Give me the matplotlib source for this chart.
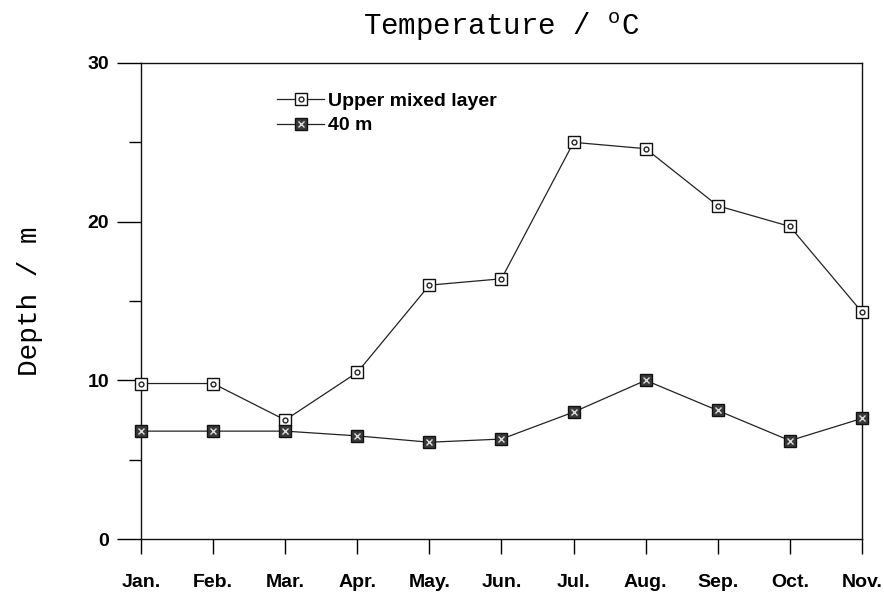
import matplotlib
matplotlib.use('Agg')
import matplotlib.pyplot as plt
from matplotlib.lines import Line2D
from matplotlib.legend_handler import HandlerTuple
from matplotlib.ticker import MultipleLocator

plt.rcParams['font.family'] = 'Liberation Sans'
plt.rcParams['mathtext.fontset'] = 'custom'
plt.rcParams['mathtext.rm'] = 'Liberation Mono'

months = ['Jan.', 'Feb.', 'Mar.', 'Apr.', 'May.', 'Jun.', 'Jul.', 'Aug.', 'Sep.', 'Oct.', 'Nov.']
upper_mixed = [9.8, 9.8, 7.5, 10.5, 16.0, 16.4, 25.0, 24.6, 21.0, 19.7, 14.3]
depth_40m = [6.8, 6.8, 6.8, 6.5, 6.1, 6.3, 8.0, 10.0, 8.1, 6.2, 7.6]

x = list(range(len(months)))

fig = plt.figure(figsize=(8.84, 5.96), dpi=100)
ax = fig.add_axes([0.1595, 0.0956, 0.8156, 0.7987])

# upper mixed layer: open square with small circle inside
ax.plot(x, upper_mixed, color='#222222', lw=0.9, marker='s', ms=9,
        mfc='white', mec='#111111', mew=1.0, zorder=3, clip_on=False)
ax.plot(x, upper_mixed, ls='none', marker='o', ms=3.5, mfc='white',
        mec='#222222', mew=1.0, zorder=4, clip_on=False)

# 40 m: dark filled square with light speckle
ax.plot(x, depth_40m, color='#222222', lw=0.9, marker='s', ms=9,
        mfc='#3a3a3a', mec='#111111', mew=1.0, zorder=3, clip_on=False)
ax.plot(x, depth_40m, ls='none', marker='x', ms=5, mec='#dddddd',
        mew=1.0, zorder=4, clip_on=False)

ax.set_xlim(0, 10)
ax.set_ylim(0, 30)
ax.set_xticks(x)
ax.set_xticklabels(months, fontsize=14, fontweight='bold')
ax.yaxis.set_major_locator(MultipleLocator(10))
ax.yaxis.set_minor_locator(MultipleLocator(5))
for lab in ax.get_yticklabels():
    lab.set_fontsize(14)
    lab.set_fontweight('bold')

ax.tick_params(axis='x', direction='out', length=11, width=1.0, pad=14)
ax.tick_params(axis='y', which='major', direction='out', length=17, width=1.0, pad=6)
ax.tick_params(axis='y', which='minor', direction='out', length=9, width=1.0)
for sp in ax.spines.values():
    sp.set_linewidth(1.0)
    sp.set_color('#111111')

ax.set_ylabel('Depth / m', family='Liberation Mono', fontsize=20, labelpad=32)
ax.set_title(r'Temperature / $^{\rm o}$C', family='Liberation Mono', fontsize=21, pad=20)

h_upper = (Line2D([], [], color='#222222', lw=0.9, marker='s', ms=9, mfc='white', mec='#111111'),
           Line2D([], [], ls='none', marker='o', ms=3.5, mfc='white', mec='#222222'))
h_40 = (Line2D([], [], color='#222222', lw=0.9, marker='s', ms=9, mfc='#3a3a3a', mec='#111111'),
        Line2D([], [], ls='none', marker='x', ms=5, mec='#dddddd'))
ax.legend([h_upper, h_40], ['Upper mixed layer', '40 m'],
          handler_map={tuple: HandlerTuple(ndivide=1)}, numpoints=1,
          loc='upper left', bbox_to_anchor=(0.165, 0.975), frameon=False,
          prop={'weight': 'bold', 'size': 14}, handlelength=2.4,
          handletextpad=0.2, labelspacing=0.35)

plt.savefig('out.png', dpi=100)
